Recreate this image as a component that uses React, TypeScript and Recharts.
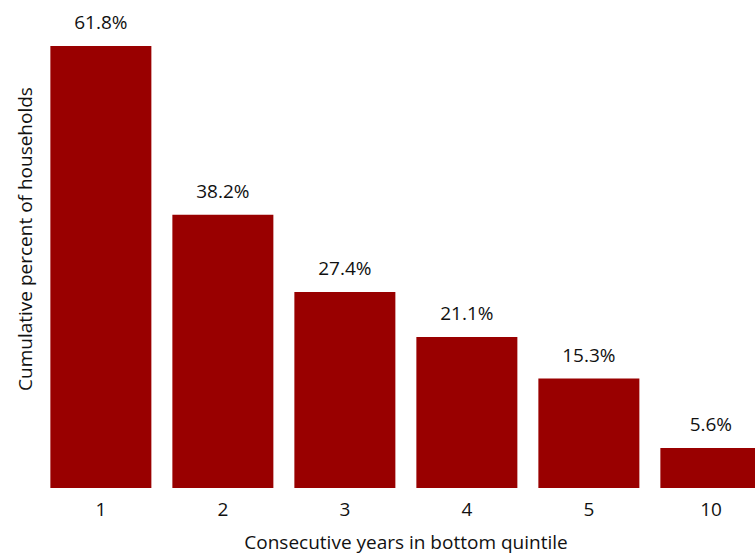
import { BarChart, Bar, XAxis, YAxis, LabelList, Label } from "recharts";

// years spent in the bottom quintile and the cumulative share of households
const years = ["1", "2", "3", "4", "5", "10"];
const sharePct = [61.8, 38.2, 27.4, 21.1, 15.3, 5.6];

const rows = years.map((y, i) => ({ years: y, share: sharePct[i] }));

const FONT = "'Open Sans', 'Noto Sans', sans-serif";
const INK = "#111111";
const SIZE = 19;

export default function App() {
  return (
    <div
      style={{
        position: "fixed",
        top: 0,
        left: 0,
        width: 755,
        height: 555,
        overflow: "hidden",
        background: "#ffffff",
      }}
    >
      <BarChart
        width={780}
        height={555}
        data={rows}
        margin={{ top: 46, right: 8, bottom: 0, left: 0 }}
        barCategoryGap="8.5%"
        style={{ fontFamily: FONT }}
      >
        <XAxis
          dataKey="years"
          height={67}
          axisLine={false}
          tickLine={false}
          tickMargin={9}
          tick={{ fill: INK, fontSize: SIZE, fontFamily: FONT }}
        >
          <Label
            value="Consecutive years in bottom quintile"
            position="insideBottom"
            offset={6}
            fill={INK}
            fontSize={SIZE}
            fontFamily={FONT}
          />
        </XAxis>
        <YAxis
          width={40}
          domain={[0, 61.8]}
          tick={false}
          axisLine={false}
          tickLine={false}
        >
          <Label
            value="Cumulative percent of households"
            angle={-90}
            position="center"
            dx={5}
            dy={-28}
            fill={INK}
            fontSize={SIZE}
            fontFamily={FONT}
          />
        </YAxis>
        <Bar dataKey="share" fill="#990000" isAnimationActive={false}>
          <LabelList
            dataKey="share"
            position="top"
            offset={17}
            formatter={(v: number) => `${v.toFixed(1)}%`}
            fill={INK}
            fontSize={SIZE}
            fontFamily={FONT}
          />
        </Bar>
      </BarChart>
    </div>
  );
}
